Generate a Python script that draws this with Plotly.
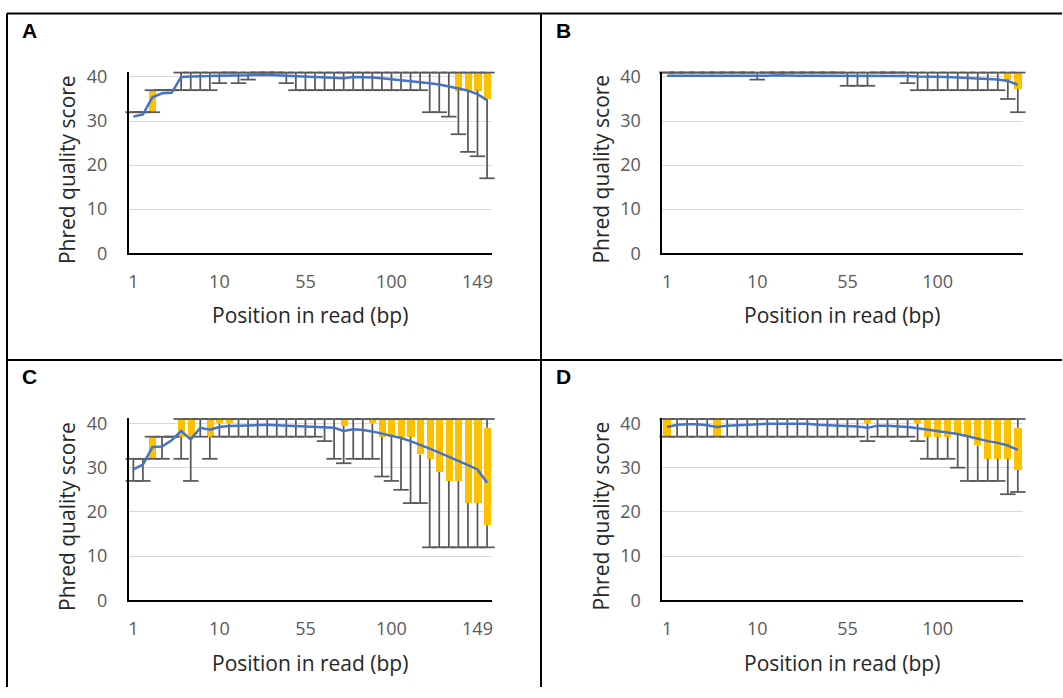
import plotly.graph_objects as go

# ---------------- data ----------------
# Tick labels
AC_tick_pos = [0, 9, 18, 27, 36]
AC_tick_text = ["1", "10", "55", "100", "149"]
BD_tick_pos = [0, 9, 18, 27]
BD_tick_text = ["1", "10", "55", "100"]
y_ticks = [0, 10, 20, 30, 40]

# Panel A (38 positions): 10th pct, lower quartile, upper quartile, 90th pct, mean
A_low = [32, 32, 32, 37, 37, 37, 37, 37, 37, 38.6, 41, 38.6, 39.4, 41, 41, 41, 38.6,
         37, 37, 37, 37, 37, 37, 37, 37, 37, 37, 37, 37, 37, 37, 32, 32, 31, 27, 23, 22, 17]
A_q1 = [32, 32, 32, 37, 37, 41, 41, 41, 41, 41, 41, 41, 41, 41, 41, 41, 41, 41, 41, 41,
        41, 41, 41, 41, 41, 41, 41, 41, 41, 41, 41, 41, 41, 41, 37, 37, 37, 35]
A_q3 = [32, 32, 37, 37, 37, 41, 41, 41, 41, 41, 41, 41, 41, 41, 41, 41, 41, 41, 41, 41,
        41, 41, 41, 41, 41, 41, 41, 41, 41, 41, 41, 41, 41, 41, 41, 41, 41, 41]
A_high = [32, 32, 37, 37, 37, 41, 41, 41, 41, 41, 41, 41, 41, 41, 41, 41, 41, 41, 41, 41,
          41, 41, 41, 41, 41, 41, 41, 41, 41, 41, 41, 41, 41, 41, 41, 41, 41, 41]
A_mean = [31.0, 31.5, 35.4, 36.3, 36.4, 40.0, 40.1, 40.1, 40.2, 40.3, 40.3, 40.4, 40.4,
          40.5, 40.5, 40.4, 40.3, 40.2, 40.1, 40.0, 40.0, 39.9, 39.7, 40.0, 40.0, 39.9,
          39.7, 39.5, 39.3, 39.1, 38.9, 38.6, 38.3, 37.9, 37.4, 36.9, 36.1, 34.7]

# Panel B (36 positions)
B_low = [41, 41, 41, 41, 41, 41, 41, 41, 41, 39.4, 41, 41, 41, 41, 41, 41, 41, 41,
         38, 38, 38, 41, 41, 41, 38.6, 37, 37, 37, 37, 37, 37, 37, 37, 37, 35, 32]
B_q1 = [41, 41, 41, 41, 41, 41, 41, 41, 41, 41, 41, 41, 41, 41, 41, 41, 41, 41,
        41, 41, 41, 41, 41, 41, 41, 41, 41, 41, 41, 41, 41, 41, 41, 41, 39.4, 37.3]
B_q3 = [41, 41, 41, 41, 41, 41, 41, 41, 41, 41, 41, 41, 41, 41, 41, 41, 41, 41,
        41, 41, 41, 41, 41, 41, 41, 41, 41, 41, 41, 41, 41, 41, 41, 41, 41, 41]
B_high = [41, 41, 41, 41, 41, 41, 41, 41, 41, 41, 41, 41, 41, 41, 41, 41, 41, 41,
          41, 41, 41, 41, 41, 41, 41, 41, 41, 41, 41, 41, 41, 41, 41, 41, 41, 41]
B_mean = [40.3, 40.3, 40.2, 40.3, 40.3, 40.3, 40.2, 40.3, 40.3, 40.3, 40.3, 40.4,
          40.3, 40.3, 40.3, 40.3, 40.3, 40.3, 40.3, 40.3, 40.3, 40.3, 40.2, 40.2,
          40.2, 40.1, 40.1, 40.0, 40.0, 39.9, 39.8, 39.7, 39.6, 39.4, 39.1, 38.2]

# Panel C (38 positions)
C_low = [27, 27, 32, 32, 37, 32, 27, 37, 32, 37, 37, 37, 37, 37, 37, 37, 37, 37, 37, 37,
         36, 32, 31, 32, 32, 32, 28, 27, 25, 22, 22, 12, 12, 12, 12, 12, 12, 12]
C_q1 = [32, 32, 32, 37, 37, 37, 37, 41, 37, 40, 40, 41, 41, 41, 41, 41, 41, 41, 41, 41,
        41, 41, 39.4, 41, 41, 40, 37, 37, 37, 37, 33, 32, 29, 27, 27, 22, 22, 17]
C_q3 = [32, 32, 37, 37, 37, 41, 41, 41, 41, 41, 41, 41, 41, 41, 41, 41, 41, 41, 41, 41,
        41, 41, 41, 41, 41, 41, 41, 41, 41, 41, 41, 41, 41, 41, 41, 41, 41, 39]
C_high = [32, 32, 37, 37, 37, 41, 41, 41, 41, 41, 41, 41, 41, 41, 41, 41, 41, 41, 41, 41,
          41, 41, 41, 41, 41, 41, 41, 41, 41, 41, 41, 41, 41, 41, 41, 41, 41, 41]
C_mean = [29.6, 30.7, 34.7, 34.8, 36.2, 38.3, 36.4, 39.0, 38.6, 39.2, 39.4, 39.5, 39.6,
          39.6, 39.7, 39.6, 39.5, 39.4, 39.4, 39.3, 39.2, 39.0, 38.3, 38.7, 38.5, 38.2,
          37.7, 37.2, 36.7, 36.0, 35.2, 34.3, 33.4, 32.5, 31.5, 30.6, 29.6, 26.6]

# Panel D (36 positions)
D_low = [37, 37, 37, 37, 37, 37, 37, 37, 37, 37, 37, 37, 37, 37, 37, 37, 37, 37, 37, 37,
         36, 37, 37, 37, 37, 36, 32, 32, 32, 30, 27, 27, 27, 27, 24, 24.5]
D_q1 = [37, 41, 41, 41, 41, 37, 41, 41, 41, 41, 41, 41, 41, 41, 41, 41, 41, 41, 41, 41,
        40, 41, 41, 41, 41, 40, 37, 37, 37, 37.5, 37, 35, 32, 32, 32, 29.5]
D_q3 = [41, 41, 41, 41, 41, 41, 41, 41, 41, 41, 41, 41, 41, 41, 41, 41, 41, 41, 41, 41,
        41, 41, 41, 41, 41, 41, 41, 41, 41, 41, 41, 41, 41, 41, 41, 39]
D_high = [41, 41, 41, 41, 41, 41, 41, 41, 41, 41, 41, 41, 41, 41, 41, 41, 41, 41, 41, 41,
          41, 41, 41, 41, 41, 41, 41, 41, 41, 41, 41, 41, 41, 41, 41, 41]
D_mean = [39.2, 39.7, 39.8, 39.8, 39.6, 39.2, 39.5, 39.6, 39.8, 39.9, 39.9, 39.9, 39.9,
          39.9, 39.9, 39.7, 39.6, 39.6, 39.5, 39.3, 39.0, 39.5, 39.5, 39.4, 39.2, 38.9,
          38.6, 38.3, 38.0, 37.6, 37.1, 36.5, 36.0, 35.6, 35.0, 34.0]

panel_labels = ["A", "B", "C", "D"]
y_title = "Phred quality score"
x_title = "Position in read (bp)"

# ---------------- layout geometry (pixels) ----------------
W, H = 1063, 698
Y_TOP = 41.2
# vertical correction measured between the requested and the photographed page
VS, VOFF = 0.973, 6.4


def fx(p):
    return p / W


def fy(p):
    q = (p - VOFF) / VS
    return 1 - q / H


panels = [
    dict(label=panel_labels[0], low=A_low, q1=A_q1, q3=A_q3, high=A_high, mean=A_mean,
         tpos=AC_tick_pos, ttext=AC_tick_text, x0=128.7, x1=492.3, ybot=252.3, ytop=71.0,
         lab=(20, 29.5)),
    dict(label=panel_labels[1], low=B_low, q1=B_q1, q3=B_q3, high=B_high, mean=B_mean,
         tpos=BD_tick_pos, ttext=BD_tick_text, x0=662.7, x1=1023.8, ybot=252.3, ytop=71.0,
         lab=(555, 29.5)),
    dict(label=panel_labels[2], low=C_low, q1=C_q1, q3=C_q3, high=C_high, mean=C_mean,
         tpos=AC_tick_pos, ttext=AC_tick_text, x0=128.7, x1=492.3, ybot=599.1, ytop=417.0,
         lab=(20, 375)),
    dict(label=panel_labels[3], low=D_low, q1=D_q1, q3=D_q3, high=D_high, mean=D_mean,
         tpos=BD_tick_pos, ttext=BD_tick_text, x0=662.7, x1=1023.8, ybot=599.1, ytop=417.0,
         lab=(555, 375)),
]

GOLD = "#FFC000"
WHISK = "#595959"
BLUE = "#4472C4"
FONT = "Open Sans"

fig = go.Figure()
layout = dict(
    width=W, height=H, autosize=False,
    margin=dict(l=0, r=0, t=0, b=0),
    paper_bgcolor="white", plot_bgcolor="white",
    showlegend=False, bargap=0,
    annotations=[], shapes=[],
)

for i, p in enumerate(panels):
    k = "" if i == 0 else str(i + 1)
    xa, ya = "x" + k, "y" + k
    n = len(p["mean"])
    pos = list(range(n))
    heights = [b - a for a, b in zip(p["q1"], p["q3"])]
    down = [a - l for a, l in zip(p["q1"], p["low"])]
    up = [h - b for b, h in zip(p["q3"], p["high"])]
    zeros = [0 for _ in pos]

    fig.add_trace(go.Bar(x=pos, y=heights, base=p["q1"], width=0.75,
                         marker=dict(color=GOLD, line=dict(width=0)),
                         xaxis=xa, yaxis=ya, hoverinfo="skip"))
    # lower whiskers
    fig.add_trace(go.Scatter(x=pos, y=p["q1"], mode="markers",
                             marker=dict(size=1, color="rgba(0,0,0,0)"),
                             error_y=dict(type="data", symmetric=False, array=zeros,
                                          arrayminus=down, width=0, thickness=1.75,
                                          color=WHISK),
                             cliponaxis=False, xaxis=xa, yaxis=ya, hoverinfo="skip"))
    # upper whiskers
    fig.add_trace(go.Scatter(x=pos, y=p["q3"], mode="markers",
                             marker=dict(size=1, color="rgba(0,0,0,0)"),
                             error_y=dict(type="data", symmetric=False, array=up,
                                          arrayminus=zeros, width=0, thickness=1.75,
                                          color=WHISK),
                             cliponaxis=False, xaxis=xa, yaxis=ya, hoverinfo="skip"))
    # whisker caps
    fig.add_trace(go.Scatter(x=pos + pos, y=p["low"] + p["high"], mode="markers",
                             marker=dict(symbol="line-ew", size=11,
                                         line=dict(width=1.75, color=WHISK)),
                             cliponaxis=False, xaxis=xa, yaxis=ya, hoverinfo="skip"))
    # mean line
    fig.add_trace(go.Scatter(x=pos, y=p["mean"], mode="lines",
                             line=dict(color=BLUE, width=2.5),
                             cliponaxis=False, xaxis=xa, yaxis=ya))

    layout["xaxis" + k] = dict(
        domain=[fx(p["x0"]), fx(p["x1"])], anchor=ya, range=[-0.5, n - 0.5],
        tickmode="array", tickvals=p["tpos"], ticktext=p["ttext"],
        showgrid=False, zeroline=False, showline=True, linecolor="black", linewidth=1.5,
        ticks="", ticklabelstandoff=11,
        tickfont=dict(family=FONT, size=18, color="#595959"), fixedrange=True,
    )
    layout["yaxis" + k] = dict(
        domain=[fy(p["ybot"]), fy(p["ytop"])], anchor=xa, range=[0, Y_TOP],
        tickmode="array", tickvals=y_ticks,
        showgrid=True, gridcolor="#D9D9D9", gridwidth=1, zeroline=False,
        showline=True, linecolor="black", linewidth=1.5,
        ticks="", ticklabelstandoff=16,
        tickfont=dict(family=FONT, size=18, color="#595959"), fixedrange=True,
    )
    xc = (p["x0"] + p["x1"]) / 2
    layout["annotations"].append(dict(
        text=x_title, xref="paper", yref="paper", x=fx(xc), y=fy(p["ybot"] + 62),
        xanchor="center", yanchor="middle", showarrow=False,
        font=dict(family=FONT, size=21, color="#262626")))
    layout["annotations"].append(dict(
        text=y_title, xref="paper", yref="paper", x=fx(p["x0"] - 61),
        y=fy((p["ybot"] + p["ytop"]) / 2 + 7),
        xanchor="center", yanchor="middle", textangle=-90, showarrow=False,
        font=dict(family=FONT, size=21, color="#262626")))
    layout["annotations"].append(dict(
        text="<b>" + p["label"] + "</b>", xref="paper", yref="paper",
        x=fx(p["lab"][0]), y=fy(p["lab"][1]), xanchor="left", yanchor="middle",
        showarrow=False, font=dict(family="Liberation Sans", size=21, color="black")))

# table borders
border = dict(type="line", xref="paper", yref="paper", line=dict(color="black", width=2))
layout["shapes"] = [
    dict(border, x0=fx(7), x1=fx(W), y0=fy(13), y1=fy(13)),
    dict(border, x0=fx(7), x1=fx(7), y0=fy(13), y1=0),
    dict(border, x0=fx(541.5), x1=fx(541.5), y0=fy(13), y1=0),
    dict(border, x0=fx(7), x1=fx(W), y0=fy(359), y1=fy(359)),
]

fig.update_layout(**layout)
post = (
    "document.documentElement.style.margin='0';"
    "document.documentElement.style.overflow='hidden';"
    "document.body.style.margin='0';document.body.style.padding='0';"
    "document.body.style.overflow='hidden';"
    "var d=document.getElementById('{plot_id}');"
    "d.style.position='fixed';d.style.left='0px';d.style.top='0px';"
)
fig.write_html("out.html", config={"displayModeBar": False}, post_script=post)
